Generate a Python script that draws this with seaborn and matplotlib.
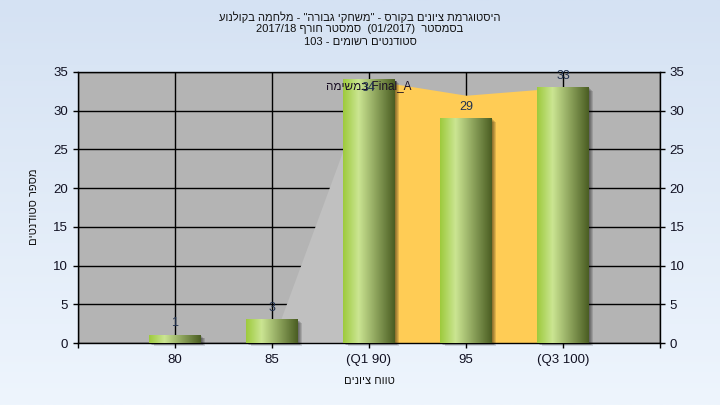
import re
import numpy as np
import matplotlib
matplotlib.use('Agg')
import matplotlib.pyplot as plt
from matplotlib.colors import LinearSegmentedColormap
from matplotlib.patches import Rectangle
import seaborn as sns

# data
grades = ['80', '85', '(Q1 90)', '95', '(Q3 100)']
students = [1, 3, 34, 29, 33]
area_values = [0, 0, 34, 32, 33]   # Final_A area behind the bars
q1_idx, q3_idx = 2, 4
y_ticks = [0, 5, 10, 15, 20, 25, 30, 35]

title_lines = ['היסטוגרמת ציונים בקורס - "משחקי גבורה" - מלחמה בקולנוע',
               'בסמסטר  (01/2017)  סמסטר חורף 2017/18',
               'סטודנטים רשומים - 103']
series_label = 'Final_A במשימה'
x_label = 'טווח ציונים'
y_label = 'מספר סטודנטים'

MIRROR = str.maketrans('()', ')(')


def rtl(s):
    # tiny bidi: right-to-left line, latin/digit runs keep their order
    runs = re.findall(r'[A-Za-z0-9](?:[A-Za-z0-9_/.]*[A-Za-z0-9])?|[^A-Za-z0-9]+', s)
    out = []
    for r in reversed(runs):
        if re.match(r'[A-Za-z0-9]', r):
            out.append(r)
        else:
            out.append(r[::-1].translate(MIRROR))
    return ''.join(out)


plt.rcParams['font.family'] = ['Liberation Sans', 'DejaVu Sans']

fig = plt.figure(figsize=(7.2, 4.05), dpi=100)

# light blue gradient background
bg = fig.add_axes([0, 0, 1, 1], zorder=-10)
bg_cmap = LinearSegmentedColormap.from_list('bg', ['#d5e2f3', '#eef5fd'])
bg.imshow(np.linspace(0, 1, 256).reshape(-1, 1), cmap=bg_cmap, aspect='auto', extent=[0, 1, 0, 1])
bg.axis('off')

ax = fig.add_axes([78 / 720, 62 / 405, 582 / 720, 271 / 405])
ax.set_facecolor('#b4b4b4')

sns.barplot(x=grades, y=students, ax=ax, width=0.53, color='#8fb33a', saturation=1)
bars = list(ax.patches)

xs = np.arange(len(grades))
ax.fill_between(xs[:q1_idx + 1], area_values[:q1_idx + 1], color='#c0c0c0', lw=0, zorder=1)
ax.fill_between(xs[q1_idx:q3_idx + 1], area_values[q1_idx:q3_idx + 1], color='#ffcc55', lw=0, zorder=1)

bar_cmap = LinearSegmentedColormap.from_list('bar', [(0, '#9dca3c'), (0.3, '#cbe592'), (1, '#4a5d22')])
grad = np.linspace(0, 1, 256).reshape(1, -1)
for p, v in zip(bars, students):
    x0, w, h = p.get_x(), p.get_width(), p.get_height()
    p.set_visible(False)
    # soft shadow
    for k in range(1, 5):
        ax.add_patch(Rectangle((x0 + 0.011 * k, -0.1 * k), w, h, color='black',
                               alpha=0.13, lw=0, zorder=3, clip_on=False))
    ax.imshow(grad, cmap=bar_cmap, extent=[x0, x0 + w, 0, h], aspect='auto', zorder=4)
    off = 8.6 if v + 1.6 < 35 else -5.8
    ax.annotate(str(v), (x0 + w / 2, h), xytext=(0, off), textcoords='offset points',
                ha='center', va='center', fontsize=9, color='#22324f', zorder=6)

ax.annotate(rtl(series_label), (q1_idx, area_values[q1_idx]), xytext=(0, -4.5),
            textcoords='offset points', ha='center', va='center', fontsize=8.5,
            color='#1a0f24', zorder=5)

ax.set_xlim(-1, len(grades))
ax.set_ylim(0, 35)
ax.set_xticks(range(-1, len(grades) + 1))
ax.set_xticklabels([''] + grades + [''])
ax.set_yticks(y_ticks)
ax.set_axisbelow(True)
ax.grid(True, color='black', lw=1)
ax.set_xlabel('')
ax.set_ylabel('')
for s in ax.spines.values():
    s.set_color('black')
    s.set_linewidth(1)
ax.tick_params(axis='both', direction='out', length=3.6, width=1, color='black',
               labelsize=9.5, labelcolor='#111122')
ax.tick_params(axis='y', right=True, labelright=True, pad=3.4)
ax.tick_params(axis='x', pad=4.5)

title_y = [17, 29.5, 42]
for line, yy in zip(title_lines, title_y):
    fig.text(0.5, 1 - yy / 405, rtl(line), ha='center', va='center', fontsize=8, color='#111111')

fig.text(369 / 720, 1 - 381 / 405, rtl(x_label), ha='center', va='center', fontsize=8, color='#111111')
fig.text(34 / 720, 1 - 207 / 405, rtl(y_label), ha='center', va='center', rotation=90,
         fontsize=8, color='#111111')

fig.savefig('out.png', dpi=100)
